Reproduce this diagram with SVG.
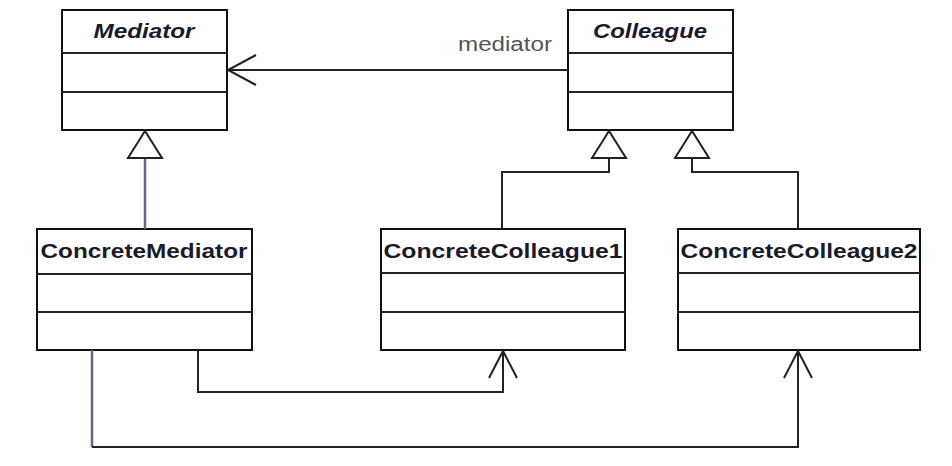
<svg xmlns="http://www.w3.org/2000/svg" width="952" height="466" viewBox="0 0 952 466">
<style>
.box{fill:#fff;stroke:#111;stroke-width:2}
.div{stroke:#222;stroke-width:2}
.t{font-family:"Liberation Sans",Arial,sans-serif;font-weight:bold;font-size:21px;fill:#1a1a2a;text-anchor:middle}
.i{font-style:italic}
.c{fill:none;stroke:#222;stroke-width:2}
.b{fill:none;stroke:#66668a;stroke-width:2.5}
.lbl{font-family:"Liberation Sans",Arial,sans-serif;font-size:20px;fill:#555}
</style>
<rect width="952" height="466" fill="#fff"/>
<g id="Mediator">
<rect class="box" x="62" y="10" width="165" height="120"/>
<line class="div" x1="62" y1="53" x2="227" y2="53"/>
<line class="div" x1="62" y1="92" x2="227" y2="92"/>
<text class="t i" x="144" y="38" textLength="101" lengthAdjust="spacingAndGlyphs">Mediator</text>
</g>
<g id="Colleague">
<rect class="box" x="568" y="10" width="165" height="120"/>
<line class="div" x1="568" y1="53" x2="733" y2="53"/>
<line class="div" x1="568" y1="92" x2="733" y2="92"/>
<text class="t i" x="650" y="38" textLength="114" lengthAdjust="spacingAndGlyphs">Colleague</text>
</g>
<g id="ConcreteMediator">
<rect class="box" x="37" y="229" width="215" height="121"/>
<line class="div" x1="37" y1="274" x2="252" y2="274"/>
<line class="div" x1="37" y1="312" x2="252" y2="312"/>
<text class="t" x="144" y="258" textLength="207" lengthAdjust="spacingAndGlyphs">ConcreteMediator</text>
</g>
<g id="ConcreteColleague1">
<rect class="box" x="381" y="229" width="244" height="121"/>
<line class="div" x1="381" y1="273" x2="625" y2="273"/>
<line class="div" x1="381" y1="312" x2="625" y2="312"/>
<text class="t" x="503" y="258" textLength="239" lengthAdjust="spacingAndGlyphs">ConcreteColleague1</text>
</g>
<g id="ConcreteColleague2">
<rect class="box" x="678" y="229" width="242" height="121"/>
<line class="div" x1="678" y1="273" x2="920" y2="273"/>
<line class="div" x1="678" y1="312" x2="920" y2="312"/>
<text class="t" x="799" y="258" textLength="237" lengthAdjust="spacingAndGlyphs">ConcreteColleague2</text>
</g>
<g id="connectors">
<line class="c" x1="568" y1="70" x2="228" y2="70"/>
<polyline class="c" points="256,55 228,70 256,85"/>
<text class="lbl" x="458" y="51" textLength="94" lengthAdjust="spacingAndGlyphs">mediator</text>
<line class="b" x1="145" y1="158" x2="145" y2="229"/>
<polygon class="c" points="145,131 128,158 162,158" fill="#fff"/>
<polyline class="c" points="502,229 502,172 609,172 609,158"/>
<polygon class="c" points="609,131 592,158 626,158" fill="#fff"/>
<polyline class="c" points="798,229 798,172 692,172 692,158"/>
<polygon class="c" points="692,131 675,158 709,158" fill="#fff"/>
<polyline class="c" points="198,350 198,392 503,392 503,351"/>
<polyline class="c" points="489,378 503,351 517,378"/>
<line class="b" x1="92" y1="350" x2="92" y2="447"/>
<polyline class="c" points="92,447 798,447 798,351"/>
<polyline class="c" points="784,378 798,351 812,378"/>
</g>
</svg>
